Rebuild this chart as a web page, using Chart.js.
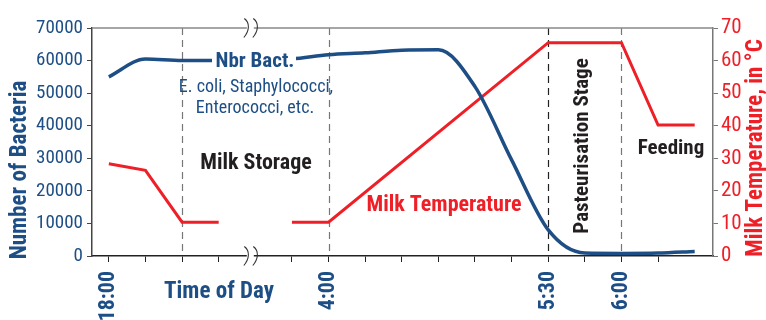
<!DOCTYPE html>
<html lang="en">
<head>
    <meta charset="UTF-8">
    <title>Bacteria and Milk Temperature</title>
    <style>
        body {
            margin: 0;
            background: #fff;
        }

        .wrap {
            width: 766px;
            height: 320px;
        }
    </style>
</head>
<body>
    <div class="wrap">
        <canvas id="milkChart" width="766" height="320"></canvas>
    </div>

    <script src="https://cdn.jsdelivr.net/npm/chart.js"></script>
    <script>
        // time slots along the x axis (one step = one tick)
        const timeSlots = [0, 1, 2, 3, 4, 5, 6, 7, 8, 9, 10, 11, 12, 13, 14, 15, 16];
        const bacteria = [55000, 60500, 60000, 60000, 60100, 60500, 61800, 62400, 63200, 63300, 52000, 29500, 8000, 900, 800, 900, 1400];

        // milk temperature, only the corners of the line (null = axis break)
        const tempTimes = [0, 1, 2, 3, 4, 5, 6, 12, 14, 15, 16];
        const tempValues = [28.3, 26.3, 10.4, 10.4, null, 10.4, 10.4, 65.5, 65.5, 40.2, 40.2];

        const tickSlots = [0, 1, 2, 3, 5, 6, 7, 8, 9, 10, 11, 12, 13, 14, 15];
        const labelSlots = [0, 6, 12, 14];
        const labelTexts = ['18:00', '4:00', '5:30', '6:00'];
        const markerSlots = [2, 6, 12, 14];
        const breakSlot = 3.85;

        const blue = '#1d4e85';
        const red = '#ee1f26';
        const dark = '#231f20';
        const narrow = "'Roboto Condensed', 'Liberation Sans Narrow', 'Arial Narrow', 'DejaVu Sans Condensed', sans-serif";

        function text(ctx, str, x, y, size, weight, color, rotate) {
            ctx.save();
            ctx.translate(x, y);
            if (rotate) ctx.rotate(-Math.PI / 2);
            ctx.font = weight + ' ' + size + 'px ' + narrow;
            ctx.fillStyle = color;
            ctx.textAlign = 'center';
            ctx.textBaseline = 'middle';
            ctx.fillText(str, 0, 0);
            ctx.restore();
        }

        // the "))" sign where the time axis is cut
        function breakMark(ctx, x, y) {
            ctx.save();
            ctx.fillStyle = '#fff';
            ctx.fillRect(x - 3, y - 2, 7, 4);
            ctx.strokeStyle = '#333';
            ctx.lineWidth = 1.1;
            [-4.5, 4.5].forEach(dx => {
                const x0 = x + dx;
                ctx.beginPath();
                ctx.moveTo(x0 - 1, y - 9.5);
                ctx.bezierCurveTo(x0 + 5, y - 5, x0 + 4, y + 3, x0 - 1.5, y + 9.5);
                ctx.stroke();
            });
            ctx.restore();
        }

        const decor = {
            id: 'decor',
            beforeDatasetsDraw(chart) {
                const ctx = chart.ctx;
                const a = chart.chartArea;
                const x = chart.scales.x;
                ctx.save();
                ctx.lineWidth = 1.2;
                ctx.setLineDash([7, 5]);
                markerSlots.forEach(s => {
                    const px = Math.round(x.getPixelForValue(s)) + 0.5;
                    ctx.strokeStyle = s === 12 ? '#222' : '#777';
                    ctx.beginPath();
                    ctx.moveTo(px, a.top);
                    ctx.lineTo(px, a.bottom);
                    ctx.stroke();
                });
                ctx.setLineDash([]);
                ctx.strokeStyle = '#888';
                ctx.lineWidth = 1.5;
                ctx.beginPath();
                ctx.moveTo(a.left, a.top);
                ctx.lineTo(a.right, a.top);
                ctx.stroke();
                ctx.restore();
            },
            afterDraw(chart) {
                const ctx = chart.ctx;
                const a = chart.chartArea;
                const x = chart.scales.x;
                const bx = x.getPixelForValue(breakSlot);
                breakMark(ctx, bx, a.top);
                breakMark(ctx, bx, a.bottom);

                ctx.save();
                ctx.fillStyle = '#fff';
                ctx.fillRect(212, 50, 84, 22);
                ctx.restore();
                text(ctx, 'Nbr Bact.', 255, 62, 21, 'bold', blue);
                text(ctx, 'E. coli, Staphylococci,', 256, 87, 18, 'normal', blue);
                text(ctx, 'Enterococci, etc.', 255, 108, 18, 'normal', blue);
                text(ctx, 'Milk Storage', 256, 163, 22, 'bold', dark);
                text(ctx, 'Milk Temperature', 444, 205, 22, 'bold', red);
                text(ctx, 'Pasteurisation Stage', 583, 146, 21, 'bold', dark, true);
                text(ctx, 'Feeding', 671, 149, 21, 'bold', dark);
                text(ctx, 'Time of Day', 219, 292, 23, 'bold', blue);
                text(ctx, 'Number of Bacteria', 20, 170, 23, 'bold', blue, true);
                text(ctx, 'Milk Temperature, in \u00b0C', 756, 148, 23, 'bold', red, true);
            }
        };

        new Chart(document.getElementById('milkChart'), {
            type: 'line',
            data: {
                datasets: [{
                    label: 'Nbr Bact.',
                    data: timeSlots.map((t, i) => ({ x: t, y: bacteria[i] })),
                    borderColor: blue,
                    borderWidth: 3.5,
                    pointRadius: 0,
                    cubicInterpolationMode: 'monotone',
                    yAxisID: 'y'
                }, {
                    label: 'Milk Temperature',
                    data: tempTimes.map((t, i) => ({ x: t, y: tempValues[i] })),
                    borderColor: red,
                    borderWidth: 3,
                    pointRadius: 0,
                    tension: 0,
                    spanGaps: false,
                    yAxisID: 'y1'
                }]
            },
            options: {
                responsive: false,
                animation: false,
                layout: { padding: { top: 28 } },
                plugins: {
                    legend: { display: false },
                    tooltip: { enabled: false }
                },
                scales: {
                    x: {
                        type: 'linear',
                        min: -0.46,
                        max: 16.5,
                        afterBuildTicks: scale => {
                            scale.ticks = tickSlots.map(v => ({ value: v }));
                        },
                        afterFit: scale => { scale.height = 64; },
                        ticks: {
                            autoSkip: false,
                            minRotation: 90,
                            maxRotation: 90,
                            padding: 9,
                            color: blue,
                            font: { family: narrow, size: 22, weight: 'bold' },
                            callback: v => {
                                const i = labelSlots.indexOf(v);
                                return i >= 0 ? labelTexts[i] : '';
                            }
                        },
                        grid: { drawOnChartArea: false, tickLength: 6, color: '#222' },
                        border: { color: '#222', width: 1.5 }
                    },
                    y: {
                        position: 'left',
                        min: 0,
                        max: 70000,
                        afterFit: scale => { scale.width = 92; },
                        ticks: {
                            stepSize: 10000,
                            padding: 4,
                            color: blue,
                            font: { family: narrow, size: 19 },
                            callback: v => String(v)
                        },
                        grid: { drawOnChartArea: false, tickLength: 5, color: '#444' },
                        border: { color: '#444', width: 1.5 }
                    },
                    y1: {
                        position: 'right',
                        min: 0,
                        max: 70,
                        afterFit: scale => { scale.width = 53; },
                        ticks: {
                            stepSize: 10,
                            padding: 3,
                            color: red,
                            font: { family: narrow, size: 21 }
                        },
                        grid: { drawOnChartArea: false, tickLength: 5, color: '#777' },
                        border: { color: '#777', width: 1.5 }
                    }
                }
            },
            plugins: [decor]
        });
    </script>
</body>
</html>
